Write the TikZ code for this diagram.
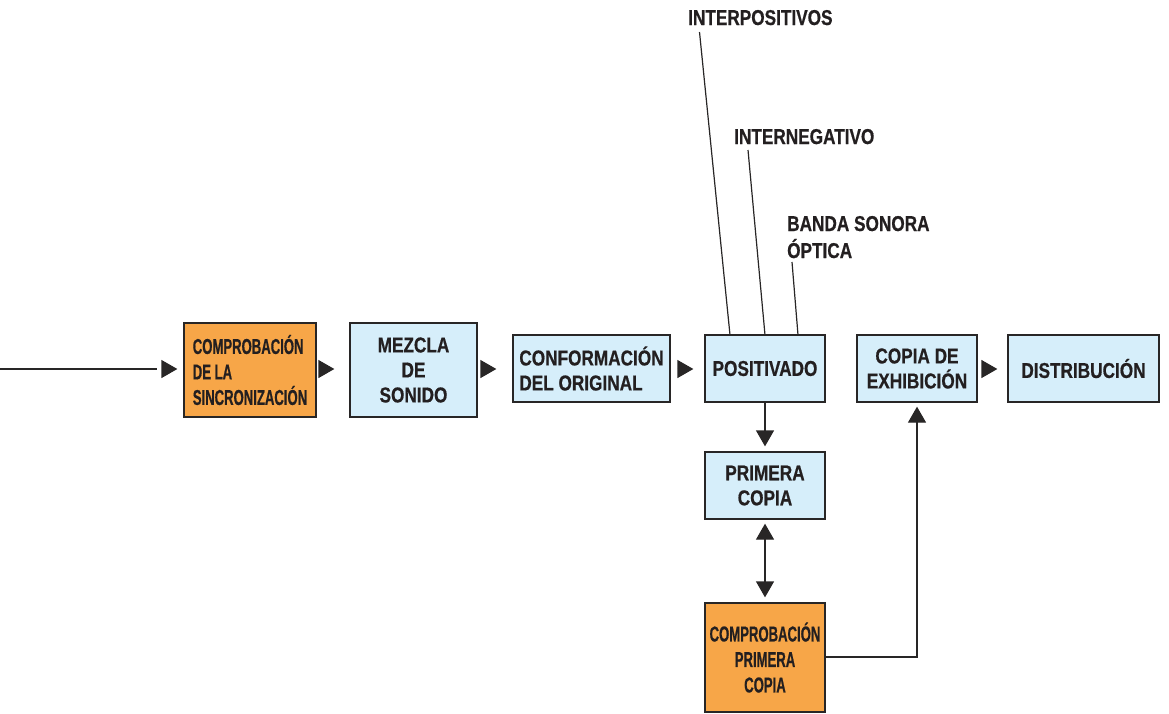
\documentclass[tikz,border=0pt]{standalone}
\usepackage{fontspec}
\setmainfont{Liberation Sans}[FakeStretch=0.80,FakeBold=0.6]
\newfontfamily\narrowfont{Liberation Sans}[FakeStretch=0.61,FakeBold=0.6]
\usetikzlibrary{arrows.meta}
\definecolor{boxorange}{RGB}{247,166,72}
\definecolor{boxblue}{RGB}{214,238,250}
\definecolor{edge}{RGB}{40,38,38}
\definecolor{ink}{RGB}{35,31,32}
\begin{document}
\begin{tikzpicture}[x=1pt,y=-1pt,
  every node/.style={font=\fontsize{21.5}{25}\selectfont\bfseries, text=ink},
  box/.style={draw=edge, line width=1.3pt, inner sep=0pt},
  bluebox/.style={box, fill=boxblue},
  orangebox/.style={box, fill=boxorange, font=\fontsize{21.5}{25.5}\narrowfont\bfseries},
  lbl/.style={inner sep=0pt, align=left},
  tri/.style={-{Triangle[width=18pt,length=16pt]}, line width=1.3pt, draw=edge},
  dtri/.style={{Triangle[width=18pt,length=16pt]}-{Triangle[width=18pt,length=16pt]}, line width=1.3pt, draw=edge},
  conn/.style={line width=1.2pt, draw=edge}
]
\useasboundingbox (0,0) rectangle (1169,713);

\node[orangebox, minimum width=132pt, minimum height=94pt, align=left] (sync) at (250,370) {COMPROBACIÓN\\DE LA\\SINCRONIZACIÓN};
\node[bluebox, minimum width=127pt, minimum height=94pt, align=center] (mez) at (413.5,370) {MEZCLA\\DE\\SONIDO};
\node[bluebox, minimum width=157pt, minimum height=67pt, align=left] (conf) at (591.5,368.5) {CONFORMACIÓN\\DEL ORIGINAL};
\node[bluebox, minimum width=120pt, minimum height=67pt] (pos) at (765,368.5) {POSITIVADO};
\node[bluebox, minimum width=120pt, minimum height=67pt, align=center] (exh) at (917,368.5) {COPIA DE\\EXHIBICIÓN};
\node[bluebox, minimum width=151pt, minimum height=67pt] (dist) at (1083.5,368.5) {DISTRIBUCIÓN};
\node[bluebox, minimum width=120pt, minimum height=67pt, align=center] (prim) at (765,485.5) {PRIMERA\\COPIA};
\node[orangebox, minimum width=120pt, minimum height=109pt, align=center] (cpc) at (765,657.5) {COMPROBACIÓN\\PRIMERA\\COPIA};

% labels
\node[lbl, anchor=base west] (l1) at (688,25) {INTERPOSITIVOS};
\node[lbl, anchor=base west] (l2) at (734,144) {INTERNEGATIVO};
\node[lbl, anchor=base west, font=\fontsize{21.5}{27}\selectfont\bfseries] (l3) at (787,258) {BANDA SONORA\\ÓPTICA};

\coordinate (a1) at (699.5,32);
\coordinate (b1) at (730,335);
\coordinate (a2) at (748,150);
\coordinate (b2) at (765,335);
\coordinate (a3) at (792,262);
\coordinate (b3) at (798,335);
\draw[conn] (a1) -- (b1);
\draw[conn] (a2) -- (b2);
\draw[conn] (a3) -- (b3);

% input line
\coordinate (in0) at (0,369);
\coordinate (in1) at (157,369);
\coordinate (in2) at (162,369);
\draw[conn] (in0) -- (in1);
\draw[tri, shorten >=6pt] (in2) -- (sync.west |- in2);

% horizontal arrows
\draw[tri, shorten <=3pt, shorten >=15pt] (sync.east |- in2) -- (mez.west |- in2);
\draw[tri, shorten <=4pt, shorten >=16pt] (mez.east |- in2) -- (conf.west |- in2);
\draw[tri, shorten <=7pt, shorten >=11pt] (conf.east |- in2) -- (pos.west |- in2);
\draw[tri, shorten <=6pt, shorten >=10pt] (exh.east |- in2) -- (dist.west |- in2);

% vertical
\draw[tri, shorten >=5pt] (pos.south) -- (prim.north);
\draw[dtri, shorten <=4pt, shorten >=5pt] (prim.south) -- (cpc.north);
\coordinate (corner) at (917,657);
\draw[tri, shorten >=4pt] (cpc.east |- corner) -- (corner) -- (exh.south);
\end{tikzpicture}
\end{document}
